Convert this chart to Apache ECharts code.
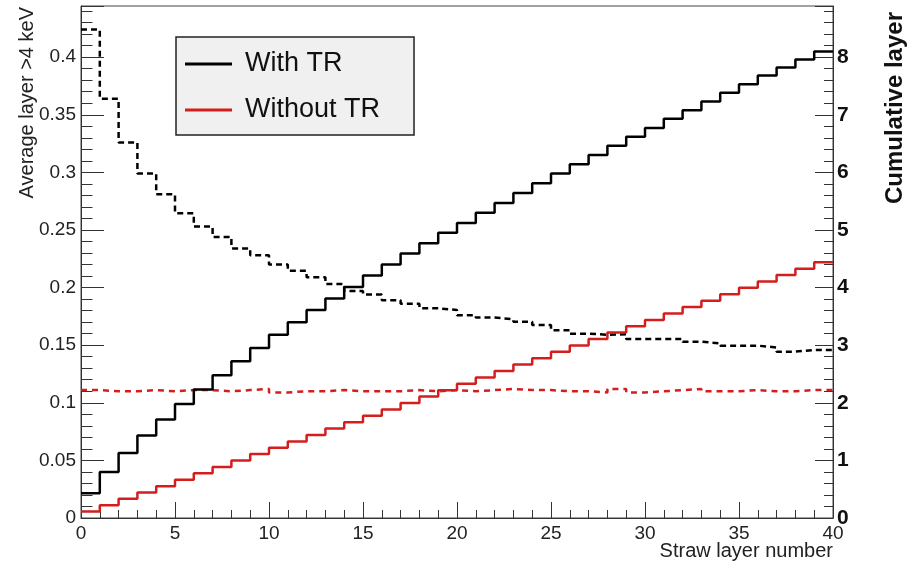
<!DOCTYPE html>
<html>
<head>
<meta charset="utf-8">
<script src="https://cdn.jsdelivr.net/npm/echarts@6/dist/echarts.min.js"></script>
<style>html,body{margin:0;padding:0;background:#fff;}#c{width:912px;height:569px;}</style>
</head>
<body>
<div id="c"></div>
<script>
// Bin edges (straw layer number) : 40 bins from 0 to 40
const layerEdges = [0,1,2,3,4,5,6,7,8,9,10,11,12,13,14,15,16,17,18,19,20,21,22,23,24,25,26,27,28,29,30,31,32,33,34,35,36,37,38,39,40];
// Average layer >4 keV (left axis), dashed
const avgWithTR = [0.424,0.364,0.326,0.299,0.281,0.2645,0.253,0.244,0.234,0.228,
  0.220,0.2147,0.209,0.203,0.197,0.194,0.189,0.186,0.182,0.1806,
  0.176,0.174,0.1725,0.1704,0.1675,0.163,0.160,0.159,0.1595,0.1554,
  0.1554,0.1554,0.153,0.1516,0.1496,0.1496,0.148,0.1444,0.1458,0.1458];
const avgWithoutTR = [0.111,0.110,0.110,0.111,0.110,0.111,0.111,0.110,0.111,0.112,
  0.109,0.110,0.110,0.111,0.110,0.110,0.110,0.111,0.110,0.111,
  0.110,0.111,0.112,0.111,0.111,0.110,0.110,0.109,0.112,0.109,
  0.110,0.111,0.112,0.110,0.110,0.111,0.110,0.110,0.111,0.111];
// Cumulative layer (right axis), solid
const cumWithTR = [0.43,0.80,1.13,1.43,1.71,1.98,2.23,2.48,2.72,2.95,
  3.18,3.40,3.61,3.81,4.01,4.21,4.40,4.59,4.77,4.95,
  5.12,5.30,5.47,5.64,5.81,5.98,6.14,6.30,6.46,6.62,
  6.77,6.93,7.08,7.23,7.38,7.53,7.68,7.82,7.96,8.10];
const cumWithoutTR = [0.111,0.221,0.332,0.443,0.553,0.664,0.775,0.886,0.997,1.109,
  1.219,1.330,1.441,1.552,1.663,1.774,1.885,1.996,2.107,2.218,
  2.329,2.440,2.552,2.663,2.774,2.885,2.996,3.106,3.218,3.328,
  3.439,3.550,3.662,3.773,3.884,3.995,4.106,4.217,4.328,4.440];

const legendNames = ['With TR', 'Without TR'];
const RED = '#d41e1e';
const FONT = 'Liberation Sans, Arial, Helvetica, sans-serif';

function histo(vals) {
  const pts = vals.map((v, i) => [layerEdges[i], v]);
  pts.push([layerEdges[layerEdges.length - 1], vals[vals.length - 1]]);
  return pts;
}

const chart = echarts.init(document.getElementById('c'), null, {renderer: 'canvas'});
chart.setOption({
  animation: false,
  backgroundColor: '#fff',
  grid: {left: 81, right: 79, top: 6, bottom: 51, show: true, borderColor: '#444', borderWidth: 1, backgroundColor: '#fff'},
  legend: {
    data: legendNames.map(n => ({name: n, icon: 'rect'})),
    orient: 'vertical',
    left: 176, top: 37,
    backgroundColor: '#f0f0f0',
    borderColor: '#222', borderWidth: 1.5,
    padding: [12, 34, 10, 9],
    itemWidth: 47, itemHeight: 3, itemGap: 16,
    textStyle: {fontFamily: FONT, fontSize: 27, color: '#111', lineHeight: 30, padding: [0, 0, 0, 8]},
    selectedMode: false
  },
  xAxis: {
    type: 'value', min: 0, max: 40, interval: 5,
    axisLine: {lineStyle: {color: '#333', width: 1}},
    axisTick: {inside: true, length: 16, lineStyle: {color: '#333'}},
    minorTick: {show: true, splitNumber: 5, length: 8, lineStyle: {color: '#333'}},
    splitLine: {show: false},
    axisLabel: {fontFamily: FONT, fontSize: 19, color: '#222', margin: 6}
  },
  yAxis: [{
    type: 'value', min: 0, max: 0.4444, interval: 0.05, position: 'left',
    axisLine: {show: true, lineStyle: {color: '#333', width: 1}},
    axisTick: {inside: true, length: 23, lineStyle: {color: '#333'}},
    minorTick: {show: true, splitNumber: 5, length: 11.5, lineStyle: {color: '#333'}},
    splitLine: {show: false},
    axisLabel: {fontFamily: FONT, fontSize: 19, color: '#222', margin: 5, showMaxLabel: false}
  }, {
    type: 'value', min: 0, max: 8.888, interval: 1, position: 'right',
    axisLine: {show: true, lineStyle: {color: '#333', width: 1}},
    axisTick: {inside: true, length: 18, lineStyle: {color: '#333'}},
    minorTick: {show: true, splitNumber: 5, length: 9, lineStyle: {color: '#333'}},
    splitLine: {show: false},
    axisLabel: {fontFamily: FONT, fontSize: 21, fontWeight: 'bold', color: '#111', margin: 4, showMaxLabel: false}
  }],
  graphic: [
    {type: 'text', x: 27, y: 7, rotation: Math.PI / 2,
     style: {text: 'Average layer >4 keV', font: '20px ' + FONT, fill: '#222', align: 'right', verticalAlign: 'middle'}},
    {type: 'text', x: 895, y: 12, rotation: Math.PI / 2,
     style: {text: 'Cumulative layer', font: 'bold 24px ' + FONT, fill: '#111', align: 'right', verticalAlign: 'middle'}},
    {type: 'text', x: 833, y: 551,
     style: {text: 'Straw layer number', font: '20px ' + FONT, fill: '#222', align: 'right', verticalAlign: 'middle'}}
  ],
  series: [
    {name: 'With TR avg', type: 'line', yAxisIndex: 0, step: 'end', symbol: 'none', data: histo(avgWithTR),
     lineStyle: {color: '#000', width: 2.5, type: [6, 4]}, z: 2},
    {name: 'Without TR avg', type: 'line', yAxisIndex: 0, step: 'end', symbol: 'none', data: histo(avgWithoutTR),
     lineStyle: {color: RED, width: 2.5, type: [6, 5]}, z: 2},
    {name: 'With TR', type: 'line', yAxisIndex: 1, step: 'end', symbol: 'none', data: histo(cumWithTR),
     color: '#000', itemStyle: {color: '#000'}, lineStyle: {color: '#000', width: 2.5}, z: 3},
    {name: 'Without TR', type: 'line', yAxisIndex: 1, step: 'end', symbol: 'none', data: histo(cumWithoutTR),
     color: RED, itemStyle: {color: RED}, lineStyle: {color: RED, width: 2.5}, z: 3}
  ]
});
</script>
</body>
</html>
